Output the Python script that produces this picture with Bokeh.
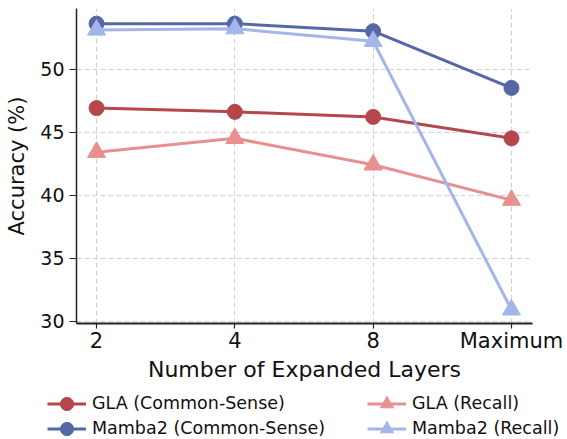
from bokeh.plotting import figure
from bokeh.models import (Range1d, FixedTicker, Legend, LegendItem, ColumnDataSource)
from bokeh.embed import file_html
from bokeh.resources import INLINE

categories = ["2", "4", "8", "Maximum"]
gla_cs = [46.9, 46.6, 46.2, 44.5]
mamba2_cs = [53.6, 53.6, 53.0, 48.5]
gla_recall = [43.4, 44.5, 42.4, 39.6]
mamba2_recall = [53.1, 53.2, 52.2, 30.9]
y_ticks = [30, 35, 40, 45, 50]

series = [
    ("GLA (Common-Sense)", gla_cs, "#b5474b", "circle"),
    ("Mamba2 (Common-Sense)", mamba2_cs, "#5468a6", "circle"),
    ("GLA (Recall)", gla_recall, "#e88f8f", "triangle"),
    ("Mamba2 (Recall)", mamba2_recall, "#a3b5ea", "triangle"),
]

FONT = "DejaVu Sans"
xs = list(range(len(categories)))

p = figure(width=567, height=385, output_backend="svg", toolbar_location=None,
           x_range=Range1d(-0.145, 3.152), y_range=Range1d(29.81, 54.8),
           min_border_left=76, min_border_right=35, min_border_top=8,
           min_border_bottom=62)
p.outline_line_color = None
p.background_fill_color = "white"
p.border_fill_color = "white"

for ax, ticks in ((p.xaxis[0], xs), (p.yaxis[0], y_ticks)):
    ax.ticker = FixedTicker(ticks=ticks)
    ax.minor_tick_line_color = None
    ax.major_tick_in = 0
    ax.major_tick_line_color = "#222222"
    ax.major_tick_line_width = 1.2
    ax.axis_line_color = "#222222"
    ax.major_label_text_font = FONT
    ax.axis_label_text_font = FONT
    ax.axis_label_text_font_style = "normal"
    ax.major_label_text_color = "#111111"
    ax.axis_label_text_color = "#111111"

xa, ya = p.xaxis[0], p.yaxis[0]
xa.major_label_overrides = {i: c for i, c in enumerate(categories)}
xa.axis_line_width = 2
ya.axis_line_width = 1.5
xa.major_tick_out = 5
ya.major_tick_out = 7
xa.major_label_text_font_size = "21px"
ya.major_label_text_font_size = "19px"
xa.axis_label = "Number of Expanded Layers"
ya.axis_label = "Accuracy (%)"
xa.axis_label_text_font_size = "22px"
ya.axis_label_text_font_size = "21px"
xa.major_label_standoff = 0
ya.major_label_standoff = 5
xa.axis_label_standoff = 1
ya.axis_label_standoff = 8

for g in (p.xgrid[0], p.ygrid[0]):
    g.grid_line_color = "#d0d0d0"
    g.grid_line_width = 1
    g.grid_line_dash = "5 3"
p.xgrid[0].ticker = FixedTicker(ticks=xs)
p.ygrid[0].ticker = FixedTicker(ticks=y_ticks)

# legend strip below the chart (separate root, so its frame spans the full width)
p2 = figure(width=567, height=54, output_backend="svg", toolbar_location=None,
            x_range=Range1d(0, 1), y_range=Range1d(0, 1),
            x_axis_type=None, y_axis_type=None,
            min_border_left=0, min_border_right=0, min_border_top=0,
            min_border_bottom=0)
p2.outline_line_color = None
p2.grid.visible = False
p2.border_fill_color = "white"

items = []
nan = float("nan")
for name, vals, color, marker in series:
    src = ColumnDataSource(dict(x=xs, y=vals))
    p.line("x", "y", source=src, line_color=color, line_width=3)
    size = 15 if marker == "circle" else 18
    p.scatter("x", "y", source=src, marker=marker, size=size,
              fill_color=color, line_color=color)
    proxy = ColumnDataSource(dict(x=[nan], y=[nan]))
    l1 = p2.line("x", "y", source=proxy, line_color=color, line_width=3)
    l2 = p2.scatter("x", "y", source=proxy, marker=marker, size=size,
                    fill_color=color, line_color=color)
    items.append(LegendItem(label=name, renderers=[l1, l2]))

def make_legend(item, loc):
    lg = Legend(items=[item], location=loc, orientation="vertical")
    lg.label_text_font = FONT
    lg.label_text_font_size = "17.5px"
    lg.label_text_color = "#111111"
    lg.glyph_width = 39
    lg.glyph_height = 33
    lg.label_standoff = 6
    lg.spacing = 0
    lg.padding = 0
    lg.margin = 0
    lg.border_line_color = None
    lg.background_fill_alpha = 0
    return lg

col_x = [47, 47, 367, 367]
row_y = [19.5, -5.5, 19.5, -5.5]
for it, cx, ry in zip(items, col_x, row_y):
    p2.add_layout(make_legend(it, (cx, ry)))

open("out.html", "w").write(file_html([p, p2], INLINE))
